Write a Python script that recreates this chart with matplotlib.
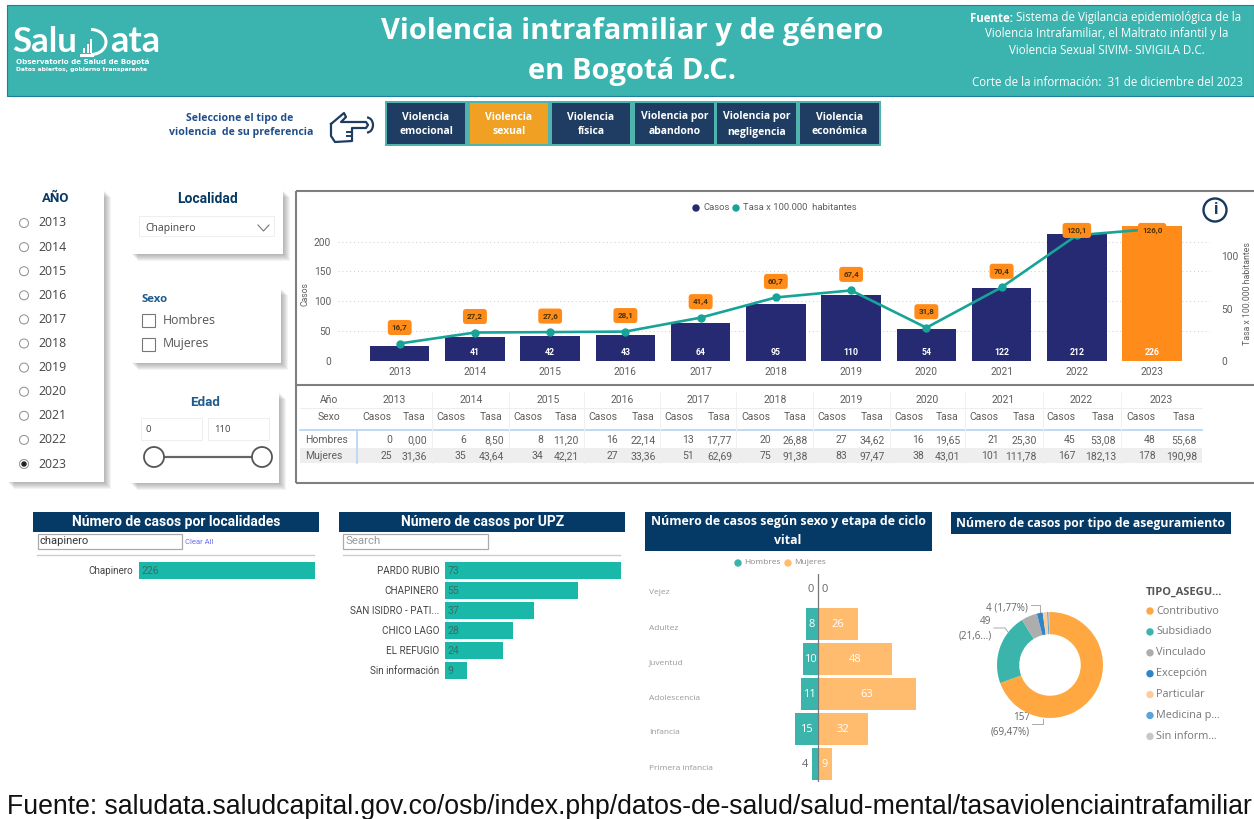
import matplotlib

matplotlib.use("Agg")
import matplotlib.pyplot as plt
from matplotlib.patches import Arc, Circle, Rectangle

W, H = 1254, 819

# main chart
years = [2013, 2014, 2015, 2016, 2017, 2018, 2019, 2020, 2021, 2022, 2023]
casos = [25, 41, 42, 43, 64, 95, 110, 54, 122, 212, 226]
tasa = [16.7, 27.2, 27.6, 28.1, 41.4, 60.7, 67.4, 31.8, 70.4, 120.1, 126.0]

# table under the chart
hombres_casos = [0, 6, 8, 16, 13, 20, 27, 16, 21, 45, 48]
hombres_tasa = ["0,00", "8,50", "11,20", "22,14", "17,77", "26,88", "34,62", "19,65", "25,30", "53,08", "55,68"]
mujeres_casos = [25, 35, 34, 27, 51, 75, 83, 38, 101, 167, 178]
mujeres_tasa = ["31,36", "43,64", "42,21", "33,36", "62,69", "91,38", "97,47", "43,01", "111,78", "182,13", "190,98"]

# bottom panels
localidades = ["Chapinero"]
localidades_casos = [226]
upz = ["PARDO RUBIO", "CHAPINERO", "SAN ISIDRO - PATI...", "CHICO LAGO", "EL REFUGIO", "Sin información"]
upz_casos = [73, 55, 37, 28, 24, 9]
etapas = ["Vejez", "Adultez", "Juventud", "Adolescencia", "Infancia", "Primera infancia"]
etapa_hombres = [0, 8, 10, 11, 15, 4]
etapa_mujeres = [0, 26, 48, 63, 32, 9]
seguros = ["Contributivo", "Subsidiado", "Vinculado", "Excepción", "Particular", "Medicina p...", "Sin inform..."]
seguros_casos = [157, 49, 11, 4, 3, 1, 1]
seguros_col = ["#FFA740", "#3BB5AB", "#ADADAD", "#2F86C6", "#FFCC99", "#5BA3D9", "#C8C8C8"]

botones = ["Violencia\nemocional", "Violencia\nsexual", "Violencia\nfísica",
           "Violencia por\nabandono", "Violencia por\nnegligencia", "Violencia\neconómica"]

TEAL = "#3BB3AE"
NAVY = "#1F3D63"
HEAD = "#063A66"
GREY = "#605E5C"
FONT = "Open Sans"
DIN = "Roboto"

plt.rcParams["font.family"] = [FONT, "DejaVu Sans"]
fig = plt.figure(figsize=(W / 100, H / 100), dpi=100, facecolor="white")

# page layer in pixel coordinates, y going down
bg = fig.add_axes([0, 0, 1, 1], zorder=0)
bg.set_xlim(0, W)
bg.set_ylim(H, 0)
bg.axis("off")


def px_axes(left, top, right, bottom, **kw):
    ax = fig.add_axes([left / W, 1 - bottom / H, (right - left) / W, (bottom - top) / H], zorder=2, **kw)
    ax.patch.set_alpha(0)
    return ax


def txt(x, y, s, size=7.5, color=GREY, ha="left", weight="normal", family=FONT, **kw):
    return bg.text(x, y, s, fontsize=size, color=color, ha=ha, va="center", fontweight=weight, family=family, **kw)


def rect(x0, y0, x1, y1, fc="white", ec="none", lw=0, z=1):
    bg.add_patch(Rectangle((x0, y0), x1 - x0, y1 - y0, fc=fc, ec=ec, lw=lw, zorder=z))


def panel(x0, y0, x1, y1):
    # soft shadow towards the lower right
    for k in range(1, 8):
        bg.add_patch(Rectangle((x0 + k, y0 + k), x1 - x0, y1 - y0, fc="#555555", ec="none", alpha=0.07, zorder=1))
    rect(x0, y0, x1, y1, z=1.5)


# header band
rect(7, 5, W, 96, fc=TEAL, ec="#1F7F9F", lw=0.8)
txt(632, 32, "Violencia intrafamiliar y de género", 21, "white", "center", "bold", zorder=3)
txt(632, 72, "en Bogotá D.C.", 21, "white", "center", "bold", zorder=3)
txt(12, 42, "Salu", 25, "white", weight="bold", family="Lato", zorder=3)
txt(110, 42, "ata", 26, "white", weight="bold", family="Lato", zorder=3)
bg.add_patch(Arc((91, 42), 30, 25, theta1=-90, theta2=90, color="white", lw=2.2, zorder=3))
bg.plot([81, 92], [54.5, 54.5], color="white", lw=2.2, zorder=3)
for bx, bt in zip([83, 86.5, 90], [48, 44, 39]):
    rect(bx, bt, bx + 2.4, 53, fc="white", z=3)
txt(16, 62, "Observatorio de Salud de Bogotá", 5.1, "white", weight="bold", family="DejaVu Sans", zorder=3)
txt(16, 70, "Datos abiertos, gobierno transparente", 4.3, "white", weight="bold", family="DejaVu Sans", zorder=3)
txt(970, 18, "Fuente:", 8.3, "white", weight="bold", zorder=3)
txt(1016, 18, "Sistema de Vigilancia epidemiológica de la", 8.3, "white", zorder=3)
txt(1107, 34, "Violencia Intrafamiliar, el Maltrato infantil y la", 8.3, "white", "center", zorder=3)
txt(1107, 51, "Violencia Sexual SIVIM- SIVIGILA D.C.", 8.3, "white", "center", zorder=3)
txt(1107, 82, "Corte de la información:  31 de diciembre del 2023", 8.3, "white", "center", zorder=3)

# type of violence selector
txt(240, 118, "Seleccione el tipo de", 7.6, "#1F4E8C", "center", "bold")
txt(241, 132, "violencia  de su preferencia", 7.6, "#1F4E8C", "center", "bold")
hand = [(331, 124), (344, 113), (346, 117), (341, 122), (366, 122), (368, 125), (366, 128), (352, 128),
        (352, 141), (335, 142), (331, 136), (331, 124)]
bg.plot(*zip(*hand), color=NAVY, lw=1.6, solid_joinstyle="round")
bg.plot([352, 347], [132, 132], color=NAVY, lw=1.4)
bg.plot([352, 347], [136, 136], color=NAVY, lw=1.4)
bg.add_patch(Arc((367, 125), 12, 15, theta1=-90, theta2=90, color=NAVY, lw=1.6))
rect(385, 101, 881, 146, fc="#4FB3AE")
btn_x = [(387, 465), (470, 548), (552, 630), (635, 714), (717, 796), (800, 879)]
for (x0, x1), lab in zip(btn_x, botones):
    sel = "sexual" in lab
    rect(x0, 103, x1, 144, fc="#F0A023" if sel else NAVY, z=2)
    a, b = lab.split("\n")
    txt((x0 + x1) / 2, 117, a, 7.5, "white", "center", "bold", zorder=3)
    txt((x0 + x1) / 2, 132, b, 7.5, "white", "center", "bold", zorder=3)

# year slicer
panel(7, 190, 104, 482)
txt(56, 199, "AÑO", 9.5, HEAD, "center", "bold", family=DIN, zorder=3)
for i, y in enumerate(years):
    yy = 223 + i * 24.1
    bg.add_patch(Circle((24, yy), 4.5, fc="white", ec="#999999", lw=0.8, zorder=3))
    if y == 2023:
        bg.add_patch(Circle((24, yy), 2.7, fc="#222222", ec="none", zorder=4))
    txt(38, yy, str(y), 8.8, "#444444", zorder=3)

# locality / sex / age slicers
panel(131, 190, 283, 254)
txt(207, 199, "Localidad", 10, HEAD, "center", "bold", family=DIN, zorder=3)
rect(139, 216, 274, 236, ec="#EEEEEE", lw=0.7, z=2)
txt(145, 228, "Chapinero", 7.5, "#444444", zorder=3)
bg.plot([258, 263.5, 269], [225, 231, 225], color="#777777", lw=0.8, zorder=3)

panel(131, 288, 281, 363)
txt(142, 300, "Sexo", 8.2, "#1F5A8C", weight="bold", zorder=3)
for yy, lab in zip([320, 344], ["Hombres", "Mujeres"]):
    rect(142, yy - 6.5, 155, yy + 6.5, ec="#777777", lw=0.8, z=3)
    txt(163, yy, lab, 8.8, "#555555", zorder=3)

panel(130, 392, 279, 483)
txt(205, 402, "Edad", 9.6, "#1F5A8C", "center", "bold", family=DIN, zorder=3)
rect(141, 418, 202, 440, ec="#EEEEEE", lw=0.7, z=2)
rect(208, 418, 269, 440, ec="#EEEEEE", lw=0.7, z=2)
txt(146, 430, "0", 6.8, "#444444", zorder=3)
txt(214, 430, "110", 6.8, "#444444", zorder=3)
bg.plot([154, 262], [457, 457], color="#666666", lw=1.6, zorder=3)
for cx in [154, 262]:
    bg.add_patch(Circle((cx, 457), 10, fc="white", ec="#555555", lw=1.3, zorder=4))

# chart + table frame
for seg in ([(296, 1254), (191, 191)], [(296, 1254), (385, 385)], [(296, 1254), (483, 483)], [(296, 296), (191, 483)]):
    bg.plot(*seg, color="#7F7F7F", lw=1.5, solid_capstyle="butt")

# legend of the main chart
bg.add_patch(Circle((696, 208), 3.7, fc="#252A72", ec="none"))
txt(703, 208, "Casos", 6.8, GREY, family=DIN)
bg.add_patch(Circle((736, 208), 3.7, fc="#17A398", ec="none"))
txt(743, 208, "Tasa x 100.000  habitantes", 6.8, GREY, family=DIN)
bg.add_patch(Circle((1215, 210), 11.5, fc="white", ec="#163A5F", lw=1.7))
txt(1215, 210, "i", 12, "#163A5F", "center", "bold", family=DIN)

# bars and rate line
ax = px_axes(338, 205, 1210, 361)
x = list(range(len(years)))
ax.set_xlim(-0.82, 10.77)
ax.set_ylim(0, 261.3)
bar_col = ["#FF8C1A" if y == 2023 else "#252A72" for y in years]
ax.bar(x, casos, width=0.79, color=bar_col, zorder=2)
for i, v in enumerate(casos):
    if i > 0:
        ax.text(i, 15, str(v), color="white", ha="center", va="center", fontsize=6.3, fontweight="bold", family=DIN, zorder=3)
ax.set_yticks([0, 50, 100, 150, 200])
ax.set_xticks(x, [str(y) for y in years])
ax.grid(axis="y", color="#CCCCCC", ls=(0, (1, 3)), lw=0.7, zorder=0)
ax.tick_params(length=0, labelsize=7.3, labelcolor=GREY)
ax.tick_params(axis="x", pad=4)
ax.tick_params(axis="y", pad=5)
for lab in ax.get_xticklabels() + ax.get_yticklabels():
    lab.set_family(DIN)
for s in ax.spines.values():
    s.set_visible(False)
ax.set_ylabel("Casos", fontsize=6.2, color=GREY, family=DIN)
ax.yaxis.set_label_coords((310 - 338) / 872, (361 - 294) / 156)

ax2 = ax.twinx()
ax2.patch.set_alpha(0)
ax2.set_ylim(0, 149)
ax2.set_yticks([0, 50, 100])
ax2.tick_params(length=0, labelsize=7.3, labelcolor=GREY, pad=8)
for lab in ax2.get_yticklabels():
    lab.set_family(DIN)
for s in ax2.spines.values():
    s.set_visible(False)
ax2.plot(x, tasa, color="#17A398", lw=1.9, marker="o", ms=5, zorder=4)
for i, v in enumerate(tasa):
    ax2.text(i, min(v + 15.3, 124.7), f"{v:.1f}".replace(".", ","), ha="center", va="center", fontsize=5.8,
             color="#4A3000", family=DIN, fontweight="bold", zorder=6,
             bbox=dict(boxstyle="round,pad=0.5,rounding_size=0.4", fc="#FF8C1A", ec="none"))
txt(1247, 294, "Tasa x 100.000 habitantes", 6.3, GREY, "center", family=DIN, rotation=90)

# table
casos_r = [392, 466, 543, 618, 694, 771, 847, 924, 999, 1076, 1156]
tasa_r = [427, 504, 579, 656, 732, 808, 885, 960, 1037, 1116, 1197]
year_c = [394, 471, 548, 622, 698, 775, 851, 927, 1003, 1081, 1161]
year_l = [357, 432, 509, 584, 660, 736, 813, 890, 965, 1043, 1121]
rect(300, 448, 1202, 463, fc="#EEEEEE")
bg.plot([300, 1202], [430, 430], color="#B8D8F5", lw=1.3)
bg.plot([300, 1202], [408, 408], color="#EEEEEE", lw=0.8)
bg.plot([357, 357], [430, 463], color="#B8D8F5", lw=1.3)
for xl in year_l[1:]:
    bg.plot([xl, xl], [392, 463], color="#F0F0F0", lw=0.7)
txt(329, 400, "Año", 7.5, GREY, "center", family=DIN)
txt(329, 417, "Sexo", 7.5, GREY, "center", family=DIN)
txt(305, 440, "Hombres", 7.5, GREY, family=DIN)
txt(305, 456, "Mujeres", 7.5, GREY, family=DIN)
for i, y in enumerate(years):
    txt(year_c[i], 400, str(y), 7.5, GREY, "center", family=DIN)
    txt(casos_r[i] - 15, 417, "Casos", 7.5, GREY, "center", family=DIN)
    txt(tasa_r[i] - 13, 417, "Tasa", 7.5, GREY, "center", family=DIN)
    txt(casos_r[i], 440, str(hombres_casos[i]), 7.5, GREY, "right", family=DIN)
    txt(tasa_r[i], 440, hombres_tasa[i], 7.5, GREY, "right", family=DIN)
    txt(casos_r[i], 456, str(mujeres_casos[i]), 7.5, GREY, "right", family=DIN)
    txt(tasa_r[i], 456, mujeres_tasa[i], 7.5, GREY, "right", family=DIN)

# bottom panel heads
rect(33, 512, 319, 532, fc=HEAD)
txt(176, 522, "Número de casos por localidades", 10, "white", "center", "bold", family=DIN, zorder=3)
rect(339, 512, 625, 532, fc=HEAD)
txt(483, 522, "Número de casos por UPZ", 10, "white", "center", "bold", family=DIN, zorder=3)
rect(645, 512, 932, 551, fc=HEAD)
txt(788, 522, "Número de casos según sexo y etapa de ciclo", 8.9, "white", "center", "bold", zorder=3)
txt(788, 540, "vital", 8.9, "white", "center", "bold", zorder=3)
rect(951, 512, 1231, 534, fc=HEAD)
txt(1091, 523, "Número de casos por tipo de aseguramiento", 8.8, "white", "center", "bold", zorder=3)

rect(38, 534, 182, 549, ec="#AAAAAA", lw=0.9)
txt(40, 541.5, "chapinero", 8, "#333333", family=DIN)
txt(185, 542, "Clear All", 5.5, "#6A6AF0", family=DIN)
bg.plot([37, 314], [555, 555], color="#CCCCCC", lw=1)
rect(343, 534, 488, 549, ec="#AAAAAA", lw=0.9)
txt(345, 541.5, "Search", 8.2, "#999999", family=DIN)
bg.plot([343, 620], [555, 555], color="#CCCCCC", lw=1)


def hbar_panel(left, right, top, names, vals, xmax):
    n = len(names)
    axb = px_axes(left, top, right, top + 20 * n)
    axb.barh(range(n), vals, height=0.84, color="#1AB8A8")
    axb.set_xlim(0, xmax)
    axb.set_ylim(n - 0.5, -0.5)
    axb.set_yticks(range(n), names)
    axb.set_xticks([])
    axb.tick_params(length=0, labelsize=7.1, labelcolor="#444444", pad=4)
    for lab in axb.get_yticklabels():
        lab.set_family(DIN)
    for s in axb.spines.values():
        s.set_visible(False)
    for i, v in enumerate(vals):
        axb.text(xmax * 0.012, i + 0.05, str(v), fontsize=7.6, color="#3A6E68", va="center", family=DIN)


hbar_panel(139, 315, 560.5, localidades, localidades_casos, 226)
hbar_panel(445, 621, 560.5, upz, upz_casos, 73)

# pyramid by sex and life stage
bg.add_patch(Circle((738, 563), 3.7, fc="#3BB5AB", ec="none"))
txt(744, 563, "Hombres", 6, "#888888")
bg.add_patch(Circle((788, 563), 3.7, fc="#FFBC6E", ec="none"))
txt(794, 563, "Mujeres", 6, "#888888")

axp = px_axes(780, 574, 930, 782)
s = 1.55
axp.set_xlim((780 - 818) / s, (930 - 818) / s)
axp.set_ylim(5.51, -0.43)
ypos = list(range(len(etapas)))
axp.barh(ypos, [-v for v in etapa_hombres], height=0.91, color="#3BB5AB")
axp.barh(ypos, etapa_mujeres, height=0.91, color="#FFBC6E")
axp.axvline(0, color="#777777", lw=0.9)
axp.axis("off")
for i, (h, m) in enumerate(zip(etapa_hombres, etapa_mujeres)):
    if h >= 8:
        axp.text(-h / 2, i, str(h), color="white", ha="center", va="center", fontsize=8)
    else:
        axp.text(-h - 2.5, i, str(h), color="#666666", ha="right", va="center", fontsize=8)
    if m >= 9:
        axp.text(m / 2, i, str(m), color="white", ha="center", va="center", fontsize=8)
    else:
        axp.text(m + 2.5, i, str(m), color="#666666", ha="left", va="center", fontsize=8)
    txt(649, 589 + 35 * i + 4, etapas[i], 6, "#999999")

# insurance donut
axd = px_axes(997, 612, 1103, 718)
axd.pie(seguros_casos, colors=seguros_col, startangle=90, counterclock=False, radius=1,
        wedgeprops=dict(width=0.42, linewidth=0))
axd.set_xlim(-1, 1)
axd.set_ylim(-1, 1)

txt(1007, 608, "4 (1,77%)", 7.1, "#666666", "center")
bg.plot([1031, 1040, 1040], [605, 605, 612], color="#AAAAAA", lw=0.7)
txt(985, 622, "49", 7.1, "#666666", "center")
txt(975, 636, "(21,6...)", 7.1, "#666666", "center")
bg.plot([994, 1005, 1008], [628, 628, 632], color="#AAAAAA", lw=0.7)
txt(1022, 718, "157", 7.1, "#666666", "center")
txt(1010, 732, "(69,47%)", 7.1, "#666666", "center")
bg.plot([1032, 1043, 1043], [724, 724, 719], color="#AAAAAA", lw=0.7)

txt(1146, 592, "TIPO_ASEGU...", 8, "#555555", weight="bold")
for i, (name, col) in enumerate(zip(seguros, seguros_col)):
    yy = 611 + i * 20.9
    bg.add_patch(Circle((1150, yy), 3.7, fc=col, ec="none"))
    txt(1156, yy, name, 7.8, "#777777")

# source line, just fits the page width
bg.text(7, 807, "Fuente: saludata.saludcapital.gov.co/osb/index.php/datos-de-salud/salud-mental/tasaviolenciaintrafamiliar",
        fontsize=19.2, color="#111111", va="center", family="Liberation Sans", clip_on=True)

fig.savefig("out.png", dpi=100)
